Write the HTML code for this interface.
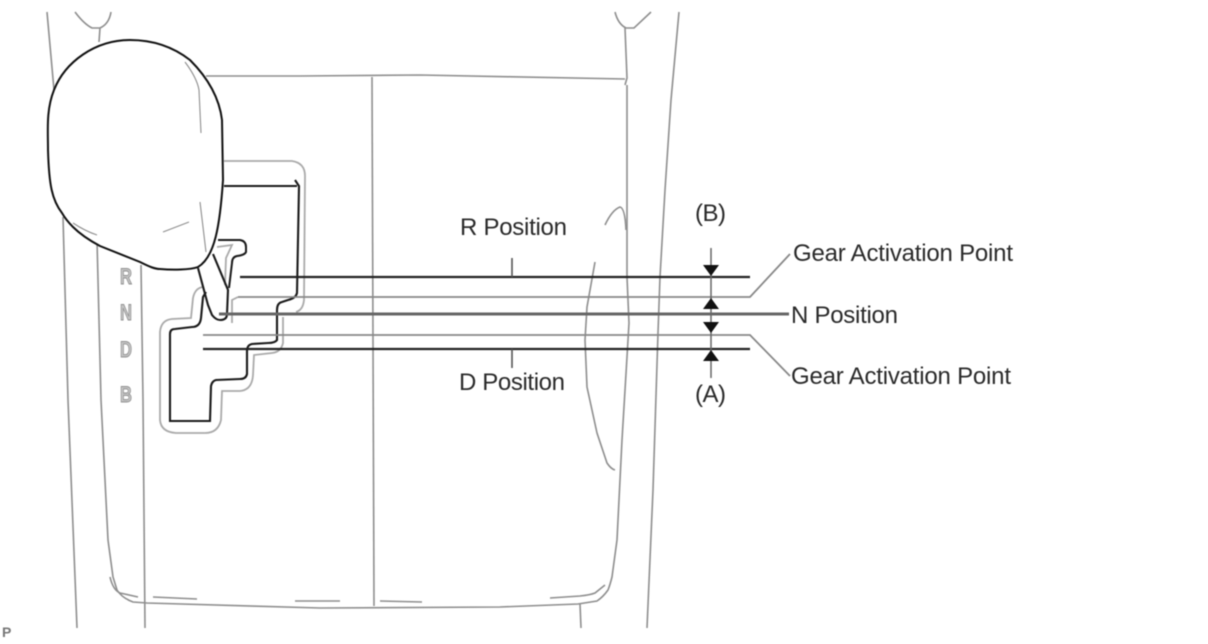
<!DOCTYPE html>
<html><head><meta charset="utf-8"><style>
html,body{margin:0;padding:0;background:#fff;width:1208px;height:644px;overflow:hidden}
svg{display:block}
text{font-family:"Liberation Sans",sans-serif;fill:#2a2a2a;font-size:24px}
.g{fill:none;stroke:#8e8e8e;stroke-width:1.6}
.l{fill:none;stroke:#aaa;stroke-width:1.8}
.k{fill:none;stroke:#1a1a1a;stroke-width:2.1}
.s{font-weight:bold;font-size:22px;fill:#c4c4c4;stroke:#909090;stroke-width:.9}
</style></head><body>
<svg width="1208" height="644" viewBox="0 0 1208 644" xmlns="http://www.w3.org/2000/svg">
<g style="filter:blur(.45px)">
<!-- console -->
<path class="g" d="M47 12L54 90M63 217L68 400L77 628"/>
<path class="g" d="M75 12Q84 24 92 28L100 28Q109 24 111 12M100 28L99 42"/>
<path class="g" d="M615 12Q618 24 626 28L634 28L651 12M625 28L627 78L625 85"/>
<path class="g" d="M627 85L627 277L629 323L627 357L622 440L617 540L612 577Q610 585 608 590Q603 597 597 601L578 604L500 607L320 608L147 603L133 602Q122 598 117 590L113 577L108 540L101 400L97 240"/>
<path class="g" d="M679 12L671 100L665 190L660 277L658 333L653 490L647 628"/>
<path class="g" d="M206 76L300 76L420 75L625 79"/>
<path class="g" d="M372 77L374 606"/>
<path class="g" d="M141 265L143 400L145 628"/>
<path class="g" d="M580 604L581 628"/>
<path class="g" d="M110 577Q113 590 120 593L138 597M153 597L197 599M295 601L340 601M380 601L422 602M550 598L580 596Q590 595 595 593L605 585"/>
<path class="g" d="M605 225Q612 210 620 207Q625 208 626 230"/>
<path class="g" d="M595 262L587 307L585 340L587 387L597 433L607 463Q611 469 615 470"/>
<!-- slot outer -->
<path class="l" d="M224 161L292 161Q305 163 305 176L304 300Q303 310 296 312M283 317L283 343Q281 352 272 353L254 355L253 375Q252 390 240 391L222 391L221 420Q218 433 205 433L176 433Q161 432 160 420L160 332Q161 320 172 319L191 318L193 298Q195 288 203 287"/>
<path class="l" d="M238 297L232 300L232 323"/>
<path class="l" d="M217 247L232 245L226 258L225 285"/>
<!-- slot inner -->
<path class="k" d="M224 186L297 186M295 180L299 186L297 293Q296 298 288 300L282 302Q277 303 277 310L277 340Q275 343 268 343L252 344Q247 345 247 351L247 374Q246 379 240 379L216 380Q212 381 211 386L210 421L170 421L170 334Q170 329 175 329L192 327Q200 327 201 318L203 297L206 292"/>
<!-- lever -->
<path class="k" d="M198 268L208 305L212 315Q216 320 220 320Q227 320 227 314L228 290L213 254"/>
<path class="k" d="M218 240L240 240Q246 241 246 247L246 252Q245 255 237 256Q232 257 232 263L229 288" style="stroke-width:2"/>
<!-- knob -->
<path d="M130 40C95 40 65 62 54 90C46 110 48 130 48 150C49 185 52 200 62 213C66 220 73 227 73 227C78 232 85 238 100 246L140 262C150 267 155 269 160 269C172 270 190 270 198 267C215 257 220 225 223 180L222 120C219 95 205 75 190 60C172 46 152 40 130 40Z" fill="#fff" stroke="#111" stroke-width="2"/>
<path class="g" d="M185 62Q197 78 199 90L201 133M163 232L189 222M200 202L206 252M73 223Q85 231 97 235" style="stroke-width:1.1"/>
<!-- gate letters -->
<text class="s" x="120" y="284" textLength="12" lengthAdjust="spacingAndGlyphs">R</text>
<text class="s" x="120" y="320" textLength="12" lengthAdjust="spacingAndGlyphs">N</text>
<text class="s" x="120" y="357" textLength="12" lengthAdjust="spacingAndGlyphs">D</text>
<text class="s" x="120" y="402" textLength="12" lengthAdjust="spacingAndGlyphs">B</text>
<!-- leader lines -->
<path d="M240 277L750 277" fill="none" stroke="#222" stroke-width="2.2"/>
<path d="M238 297L750 297L790 254" fill="none" stroke="#888" stroke-width="1.8"/>
<path d="M219 314L789 314" fill="none" stroke="#666" stroke-width="3"/>
<path d="M203 335L750 335L790 376" fill="none" stroke="#888" stroke-width="1.8"/>
<path d="M203 349L750 349" fill="none" stroke="#222" stroke-width="2.2"/>
<path d="M512 258L512 277M512 349L512 368" fill="none" stroke="#555" stroke-width="1.6"/>
<path d="M711 248L711 378" fill="none" stroke="#666" stroke-width="1.5"/>
<path d="M703 265L719 265L711 276ZM711 298L719 309L703 309ZM703 322L719 322L711 333ZM711 350L719 361L703 361Z" fill="#111"/>
<!-- labels -->
<text x="460" y="235" textLength="107">R Position</text>
<text x="459" y="390" textLength="106">D Position</text>
<text x="793" y="261" textLength="220">Gear Activation Point</text>
<text x="791" y="323" textLength="107">N Position</text>
<text x="791" y="384" textLength="220">Gear Activation Point</text>
<text x="695" y="221" textLength="31">(B)</text>
<text x="695" y="402" textLength="31">(A)</text>
<text x="2" y="637" style="font-size:14px;font-weight:bold;fill:#777">P</text>
</g>
</svg>
</body></html>
